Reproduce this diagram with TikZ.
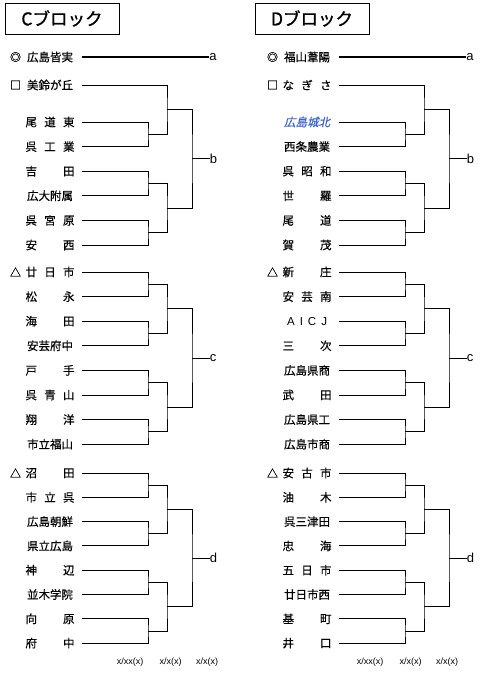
\documentclass[tikz,border=0pt]{standalone}
\usepackage{fontspec}
\setmainfont{Liberation Sans}
\newfontfamily\jp[FakeBold=0.4]{Noto Sans CJK JP}
\newfontfamily\jphead[FakeBold=1.2]{Noto Sans CJK JP}
\newfontfamily\jpslant[FakeSlant=0.22,FakeBold=0.4]{Noto Sans CJK JP}
\usepackage{xcolor}
\usetikzlibrary{calc}
\definecolor{kitablue}{RGB}{58,98,214}

\begin{document}
\begin{tikzpicture}[x=1pt,y=-1pt,line width=0.9pt,
  team/.style={anchor=east,inner xsep=7pt,inner ysep=0pt,font=\jp\fontsize{11.5}{12}\selectfont},
  seed/.style={inner sep=0pt,font=\jp\fontsize{11}{12}\selectfont},
  zone/.style={anchor=west,inner sep=0pt,font=\fontsize{13}{14}\selectfont},
  head/.style={draw,line width=0.9pt,minimum width=114pt,minimum height=31pt,inner sep=0pt,font=\jphead\fontsize{17.5}{18}\selectfont},
  day/.style={inner sep=0pt,font=\fontsize{9}{10}\selectfont}]
\useasboundingbox (0,0) rectangle (482,675);
\node[head] (C-title) at (62,18.5) {Cブロック};
\node[head] (D-title) at (312,18.5) {Dブロック};
\foreach \y/\nm [count=\i] in {57/広島皆実, 85/美鈴が丘, 122/尾\hfill 道\hfill 東, 146.6/呉\hfill 工\hfill 業,
  171.2/吉\hfill 田, 195.8/広大附属, 220.4/呉\hfill 宮\hfill 原, 245/安\hfill 西,
  272/廿\hfill 日\hfill 市, 296.6/松\hfill 永, 321.2/海\hfill 田, 345.8/安芸府中,
  370.4/戸\hfill 手, 395/呉\hfill 青\hfill 山, 419.6/翔\hfill 洋, 444.2/市立福山,
  473/沼\hfill 田, 497.3/市\hfill 立\hfill 呉, 521.6/広島朝鮮, 545.9/県立広島,
  570.2/神\hfill 辺, 594.5/並木学院, 618.8/向\hfill 原, 643.1/府\hfill 中}
  \node[team] (C\i) at (82,\y) {\makebox[49pt]{\nm}};
\begin{scope}[xshift=257]
\foreach \y/\nm [count=\i] in {57/福山葦陽, 85/な\hfill ぎ\hfill さ, 122/{\color{kitablue}\jpslant 広島城北}, 146.6/西条農業,
  171.2/呉\hfill 昭\hfill 和, 195.8/世\hfill 羅, 220.4/尾\hfill 道, 245/賀\hfill 茂,
  272/新\hfill 庄, 296.6/安\hfill 芸\hfill 南, 321.2/{\rmfamily A\hspace{5pt}I\hspace{5pt}C\hspace{5pt}J}, 345.8/三\hfill 次,
  370.4/広島県商, 395/武\hfill 田, 419.6/広島県工, 444.2/広島市商,
  473/安\hfill 古\hfill 市, 497.3/油\hfill 木, 521.6/呉三津田, 545.9/忠\hfill 海,
  570.2/五\hfill 日\hfill 市, 594.5/廿日市西, 618.8/基\hfill 町, 643.1/井\hfill 口}
  \node[team] (D\i) at (82,\y) {\makebox[49pt]{\nm}};
\end{scope}
\foreach \s in {C,D} {
  \foreach \i/\mk in {1/◎,2/□,9/△,17/△} \node[seed] (\s\i-mark) at ($(\s\i.east)+(-66.5,0)$) {\mk};
  \node[zone] (\s-a) at ($(\s1.east)+(127,0)$) {a};
  \draw[line width=2.6pt] (\s1.east) -- (\s-a.west);
  \foreach \a/\b in {3/4,5/6,7/8,9/10,11/12,13/14,15/16,17/18,19/20,21/22,23/24}
    {\coordinate (\s\a-\b) at ($(\s\a.east)!0.5!(\s\b.east)+(66,0)$);
     \draw (\s\a.east) -| (\s\a-\b) |- (\s\b.east);}
  \coordinate (\s2-4) at ($(\s2.east)!0.5!(\s3-4)+(52,0)$);
  \draw (\s2.east) -| (\s2-4) |- (\s3-4);
  \foreach \a/\b/\c/\d in {5/6/7/8,9/10/11/12,13/14/15/16,17/18/19/20,21/22/23/24}
    {\coordinate (\s\a-\d) at ($(\s\a-\b)!0.5!(\s\c-\d)+(19,0)$);
     \draw (\s\a-\b) -| (\s\a-\d) |- (\s\c-\d);}
  \foreach \a/\b/\c/\d/\z in {2/4/5/8/b,9/12/13/16/c,17/20/21/24/d}
    {\coordinate (\s\a-\d) at ($(\s\a-\b)!0.5!(\s\c-\d)+(25,0)$);
     \draw (\s\a-\b) -| (\s\a-\d) |- (\s\c-\d);
     \node[zone] (\s-\z) at ($(\s\a-\d)+(17.5,0)$) {\z};
     \draw (\s\a-\d) -- (\s-\z.west);}
}
\foreach \s/\dx in {C/0,D/240} {
  \node[day] (\s-r1) at (130+\dx,662) {x/xx(x)};
  \node[day] (\s-r2) at (170.5+\dx,662) {x/x(x)};
  \node[day] (\s-r3) at (207+\dx,662) {x/x(x)};
}
\end{tikzpicture}
\end{document}
